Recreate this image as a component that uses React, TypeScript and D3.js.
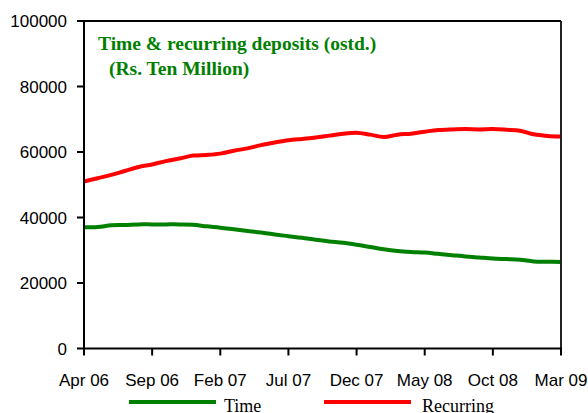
import React from 'react'
import * as d3 from 'd3'

// monthly categories, Apr 06 .. Mar 09
const months = [
  'Apr 06', 'May 06', 'Jun 06', 'Jul 06', 'Aug 06', 'Sep 06', 'Oct 06', 'Nov 06', 'Dec 06',
  'Jan 07', 'Feb 07', 'Mar 07', 'Apr 07', 'May 07', 'Jun 07', 'Jul 07', 'Aug 07', 'Sep 07',
  'Oct 07', 'Nov 07', 'Dec 07', 'Jan 08', 'Feb 08', 'Mar 08', 'Apr 08', 'May 08', 'Jun 08',
  'Jul 08', 'Aug 08', 'Sep 08', 'Oct 08', 'Nov 08', 'Dec 08', 'Jan 09', 'Feb 09', 'Mar 09',
]

const timeDeposits = [
  37000, 37100, 37600, 37700, 37900, 37900, 37900, 37900, 37800,
  37300, 36900, 36400, 35900, 35400, 34800, 34300, 33800, 33200,
  32700, 32300, 31700, 31000, 30300, 29800, 29500, 29300, 28900,
  28500, 28100, 27800, 27500, 27300, 27100, 26600, 26500, 26400,
]

const recurringDeposits = [
  51000, 52000, 53000, 54200, 55400, 56200, 57200, 58000, 58900,
  59100, 59500, 60400, 61100, 62100, 62900, 63600, 64000, 64400,
  65000, 65600, 65900, 65300, 64600, 65300, 65600, 66200, 66700,
  66900, 67000, 66900, 67000, 66800, 66500, 65400, 64900, 64700,
]

const xTickLabels = ['Apr 06', 'Sep 06', 'Feb 07', 'Jul 07', 'Dec 07', 'May 08', 'Oct 08', 'Mar 09']
const yTicks = [0, 20000, 40000, 60000, 80000, 100000]

const W = 588
const H = 413
const sans = '"Liberation Sans", Arial, sans-serif'
const serif = '"Liberation Serif", "Times New Roman", serif'

export default function App() {
  const x = d3.scalePoint<string>().domain(months).range([84, 561])
  const y = d3.scaleLinear().domain([0, 100000]).range([348.5, 21])

  const line = d3
    .line<number>()
    .x((d, i) => x(months[i]) as number)
    .y(d => y(d))
    .curve(d3.curveCatmullRom.alpha(0.5))

  const [x0, x1] = x.range()
  const [yb, yt] = y.range()

  return (
    <svg width={W} height={H} style={{ position: 'absolute', left: 0, top: 0, background: '#fff' }}>
      {/* title */}
      <text x={98} y={50} fill="#008000" fontFamily={serif} fontWeight="bold" fontSize={19.5}>
        Time &amp; recurring deposits (ostd.)
      </text>
      <text x={109} y={75} fill="#008000" fontFamily={serif} fontWeight="bold" fontSize={19.5}>
        (Rs. Ten Million)
      </text>

      {/* series */}
      <path d={line(recurringDeposits) || ''} fill="none" stroke="#ff0000" strokeWidth={4} />
      <path d={line(timeDeposits) || ''} fill="none" stroke="#008000" strokeWidth={4} />

      {/* frame */}
      <line x1={x0} x2={x1} y1={yt} y2={yt} stroke="#000" strokeWidth={2} />
      <line x1={x1} x2={x1} y1={yt} y2={yb} stroke="#222" strokeWidth={2} />
      <line x1={x0} x2={x0} y1={yt - 1} y2={yb} stroke="#000" strokeWidth={2} />
      <line x1={x0 - 1} x2={x1 + 1} y1={yb} y2={yb} stroke="#000" strokeWidth={2} />

      {/* y axis */}
      {yTicks.map(t => (
        <g key={t}>
          <line x1={x0 - 7} x2={x0} y1={y(t)} y2={y(t)} stroke="#000" strokeWidth={2} />
          <text x={67} y={y(t)} dy="0.36em" textAnchor="end" fontFamily={sans} fontSize={17}>
            {t}
          </text>
        </g>
      ))}

      {/* x axis */}
      {xTickLabels.map(m => (
        <g key={m}>
          <line x1={x(m)} x2={x(m)} y1={yb} y2={yb + 7} stroke="#000" strokeWidth={2} />
          <text x={x(m)} y={386} textAnchor="middle" fontFamily={sans} fontSize={17}>
            {m}
          </text>
        </g>
      ))}

      {/* legend */}
      <line x1={129} x2={216} y1={402} y2={402} stroke="#008000" strokeWidth={4} />
      <text x={224} y={412} fontFamily={serif} fontSize={18}>Time</text>
      <line x1={324} x2={411} y1={402} y2={402} stroke="#ff0000" strokeWidth={4} />
      <text x={422} y={412} fontFamily={serif} fontSize={18}>Recurring</text>
    </svg>
  )
}
